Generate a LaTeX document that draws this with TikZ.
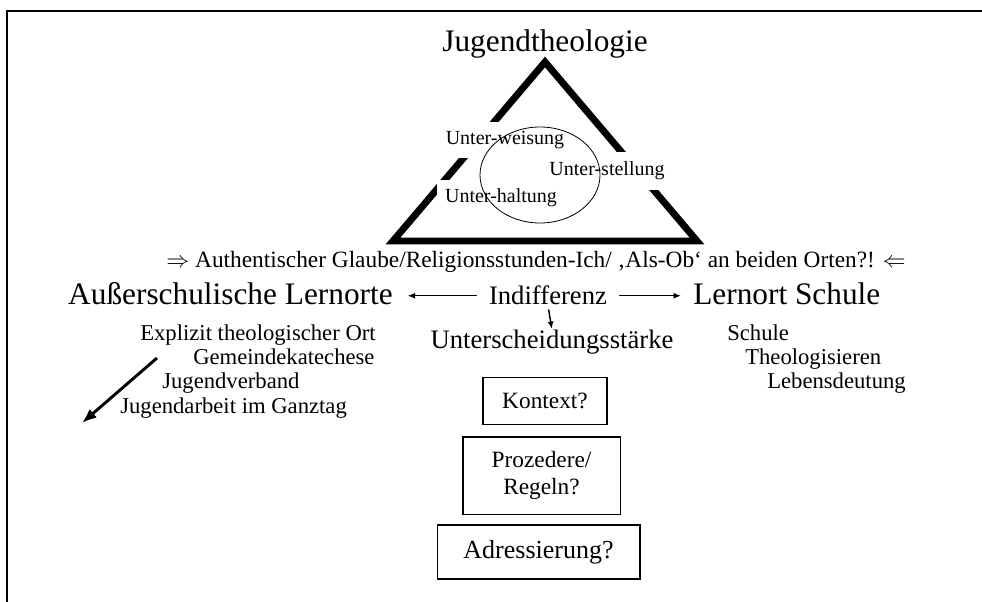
\documentclass[tikz,border=0pt]{standalone}
\usepackage{fontspec}
\setmainfont{Liberation Serif}
\usetikzlibrary{arrows.meta,shapes.geometric}
\begin{document}
\begin{tikzpicture}[x=0.75pt,y=-0.75pt,
  txt/.style={inner sep=0pt},
  huge/.style={txt,font=\fontsize{23.5}{28}\selectfont},
  medtxt/.style={txt,font=\fontsize{20}{24}\selectfont},
  lsttxt/.style={txt,font=\fontsize{17}{20}\selectfont},
  authtxt/.style={txt,font=\fontsize{17.5}{21}\selectfont},
  unter/.style={fill=white,inner sep=0pt,font=\fontsize{15}{18}\selectfont},
  tri/.style={line width=5.2pt,line join=miter},
  bx/.style={draw,line width=1pt,inner sep=2pt,align=center,font=\fontsize{17.5}{20}\selectfont},
  arr/.style={-{Latex[length=5.5pt,width=4.5pt]},line width=1.1pt},
  bigarr/.style={-{Latex[length=11pt,width=8.5pt]},line width=2.2pt}]
\useasboundingbox (0,0) rectangle (982,602);
% frame
\coordinate (fbl) at (7,602);
\coordinate (ftl) at (7,11);
\coordinate (ftr) at (982,11);
\draw[line width=2pt] (fbl) -- (ftl) -- (ftr);
% title and triangle
\node[huge,anchor=base] (jt) at (545,52) {Jugendtheologie};
\coordinate (apex) at (545,62);
\coordinate (tbl) at (393,241);
\coordinate (tbr) at (697,241);
\draw[tri] (apex) -- (tbr) -- (tbl) -- cycle;
\node[unter,minimum width=105pt,minimum height=27pt] (uw) at (505,140) {Unter-weisung};
\node[unter,minimum width=101pt,minimum height=29pt] (us) at (607,171) {Unter-stellung};
\node[unter,minimum width=96pt,minimum height=27pt] (uh) at (501,198) {Unter-haltung};
\node[draw,ellipse,line width=0.6pt,minimum width=90pt,minimum height=72pt] (circ) at (540,175) {};
% statement line
\node[authtxt,anchor=base] (auth) at (536,268) {$\Rightarrow$ Authentischer Glaube/Religionsstunden-Ich/ ‚Als-Ob‘ an beiden Orten?! $\Leftarrow$};
% middle row
\node[huge,anchor=base east] (aus) at (393,305) {Außerschulische Lernorte};
\node[medtxt,anchor=base] (ind) at (548,305) {Indifferenz};
\node[huge,anchor=base west] (ls) at (693,305) {Lernort Schule};
\node[medtxt,anchor=base] (unt) at (552,349) {Unterscheidungsstärke};
\draw[arr,shorten <=9pt,shorten >=11pt] (ind.west) -- (ind.west -| aus.east);
\draw[arr,shorten <=9pt,shorten >=9pt] (ind.east) -- (ind.east -| ls.west);
\draw[arr,shorten <=3pt,shorten >=1pt] (ind.south) -- (unt.north);
% left list
\node[lsttxt,anchor=base west] (l1) at (140,340) {Explizit theologischer Ort};
\node[lsttxt,anchor=base west] (l2) at (193,364) {Gemeindekatechese};
\node[lsttxt,anchor=base west] (l3) at (162,388) {Jugendverband};
\node[lsttxt,anchor=base west] (l4) at (120,413) {Jugendarbeit im Ganztag};
\coordinate (d1) at (157,358);
\coordinate (d2) at (82,423);
\draw[bigarr] (d1) -- (d2);
% right list
\node[lsttxt,anchor=base west] (r1) at (727,340) {Schule};
\node[lsttxt,anchor=base west] (r2) at (745,364) {Theologisieren};
\node[lsttxt,anchor=base west] (r3) at (767,388) {Lebensdeutung};
% boxes
\node[bx,minimum width=93pt,minimum height=35pt] (kon) at (545,401) {Kontext?};
\node[bx,minimum width=118pt,minimum height=58pt] (pro) at (541.5,475.5) {Prozedere/\\Regeln?};
\node[bx,minimum width=152pt,minimum height=40.5pt,font=\fontsize{19.5}{23}\selectfont] (adr) at (538.5,552) {Adressierung?};
\end{tikzpicture}
\end{document}
